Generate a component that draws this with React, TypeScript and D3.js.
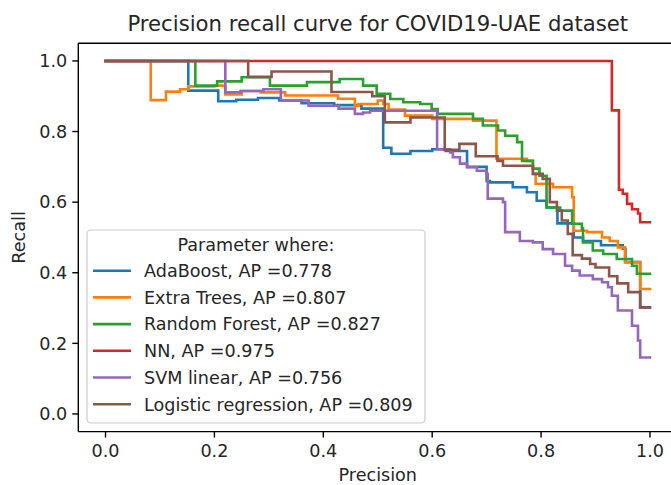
import React from "react";
import * as d3 from "d3";

const W = 671;
const H = 485;

const titleText = "Precision recall curve for COVID19-UAE dataset";
const xLabel = "Precision";
const yLabel = "Recall";
const legendTitle = "Parameter where:";
const xTicks = [0, 0.2, 0.4, 0.6, 0.8, 1.0];
const yTicks = [0, 0.2, 0.4, 0.6, 0.8, 1.0];

const seriesNames = [
  "AdaBoost, AP =0.778",
  "Extra Trees, AP =0.807",
  "Random Forest, AP =0.827",
  "NN, AP =0.975",
  "SVM linear, AP =0.756",
  "Logistic regression, AP =0.809",
];
const seriesColors = ["#1f77b4", "#ff7f0e", "#2ca02c", "#d62728", "#9467bd", "#8c564b"];

const adaBoost: [number, number][] = [
  [0, 1], [0.152, 0.916], [0.207, 0.886], [0.24, 0.89], [0.28, 0.895], [0.319, 0.888],
  [0.36, 0.88], [0.42, 0.875], [0.47, 0.865], [0.51, 0.754], [0.525, 0.737], [0.56, 0.745],
  [0.6, 0.75], [0.625, 0.745], [0.664, 0.7], [0.7, 0.66], [0.706, 0.656], [0.748, 0.642],
  [0.774, 0.628], [0.792, 0.604], [0.81, 0.585], [0.83, 0.54], [0.86, 0.5], [0.877, 0.49],
  [0.91, 0.478], [0.95, 0.468], [0.955, 0.43], [0.982, 0.302], [1.0, 0.302],
];
const extraTrees: [number, number][] = [
  [0, 1], [0.083, 0.889], [0.111, 0.913], [0.137, 0.92], [0.152, 0.928], [0.2, 0.93],
  [0.22, 0.905], [0.25, 0.915], [0.285, 0.911], [0.33, 0.902], [0.427, 0.893], [0.458, 0.873],
  [0.465, 0.878], [0.5, 0.888], [0.51, 0.878], [0.52, 0.862], [0.55, 0.845], [0.6, 0.836],
  [0.675, 0.831], [0.718, 0.723], [0.774, 0.717], [0.785, 0.68], [0.79, 0.652], [0.822, 0.642],
  [0.857, 0.614], [0.86, 0.519], [0.884, 0.515], [0.912, 0.5], [0.926, 0.49], [0.941, 0.472],
  [0.954, 0.43], [0.982, 0.354], [1.0, 0.354],
];
const randomForest: [number, number][] = [
  [0, 1], [0.165, 0.93], [0.205, 0.942], [0.25, 0.954], [0.302, 0.93], [0.37, 0.94],
  [0.43, 0.949], [0.473, 0.93], [0.498, 0.907], [0.523, 0.892], [0.547, 0.883], [0.578, 0.878],
  [0.599, 0.864], [0.61, 0.85], [0.675, 0.836], [0.693, 0.817], [0.721, 0.803], [0.734, 0.788],
  [0.756, 0.77], [0.765, 0.717], [0.785, 0.695], [0.797, 0.675], [0.81, 0.585], [0.835, 0.576],
  [0.857, 0.539], [0.875, 0.525], [0.877, 0.486], [0.895, 0.463], [0.914, 0.453], [0.939, 0.439],
  [0.967, 0.42], [0.976, 0.397], [1.0, 0.397],
];
const nn: [number, number][] = [
  [0, 1], [0.93, 0.86], [0.943, 0.635], [0.95, 0.624], [0.958, 0.595], [0.967, 0.58],
  [0.978, 0.568], [0.982, 0.543], [1.0, 0.543],
];
const svmLinear: [number, number][] = [
  [0, 1], [0.22, 0.911], [0.248, 0.915], [0.29, 0.92], [0.322, 0.888], [0.373, 0.873],
  [0.428, 0.865], [0.458, 0.85], [0.473, 0.854], [0.486, 0.859], [0.609, 0.75], [0.633, 0.741],
  [0.638, 0.727], [0.651, 0.709], [0.664, 0.699], [0.682, 0.689], [0.7, 0.68], [0.702, 0.61],
  [0.73, 0.6], [0.734, 0.515], [0.761, 0.49], [0.785, 0.486], [0.803, 0.467], [0.822, 0.453],
  [0.844, 0.42], [0.857, 0.406], [0.871, 0.392], [0.895, 0.382], [0.912, 0.373], [0.923, 0.359],
  [0.93, 0.335], [0.941, 0.293], [0.967, 0.25], [0.978, 0.208], [0.982, 0.16], [1.0, 0.16],
];
const logisticRegression: [number, number][] = [
  [0, 1], [0.262, 0.955], [0.305, 0.97], [0.415, 0.912], [0.49, 0.9], [0.513, 0.826],
  [0.56, 0.84], [0.623, 0.748], [0.65, 0.765], [0.68, 0.73], [0.72, 0.717], [0.73, 0.703],
  [0.785, 0.68], [0.803, 0.666], [0.816, 0.6], [0.829, 0.576], [0.838, 0.548], [0.849, 0.51],
  [0.858, 0.45], [0.875, 0.44], [0.89, 0.425], [0.9, 0.415], [0.925, 0.39], [0.94, 0.37],
  [0.96, 0.345], [0.982, 0.302], [1.0, 0.302],
];

const allSeries = [adaBoost, extraTrees, randomForest, nn, svmLinear, logisticRegression];

const FONT = "'DejaVu Sans', sans-serif";

export default function App() {
  const x = d3.scaleLinear().domain([-0.05, 1.05]).range([78.3, 677.2]);
  const y = d3.scaleLinear().domain([-0.05, 1.05]).range([431.6, 43.3]);
  const line = d3
    .line<[number, number]>()
    .x((d) => x(d[0]))
    .y((d) => y(d[1]))
    .curve(d3.curveStepAfter);

  const left = x(-0.05);
  const right = x(1.05);
  const top = y(1.05);
  const bottom = y(-0.05);

  const lg = { x: 87, y: 230, w: 338, h: 193 };
  const rowH = 26.7;
  const firstRow = 270.7;

  return (
    <svg
      width={W}
      height={H}
      style={{ position: "fixed", left: 0, top: 0, background: "#fff" }}
      fontFamily={FONT}
    >
      <rect x={0} y={0} width={W} height={H} fill="#fff" />
      <defs>
        <clipPath id="plotclip">
          <rect x={left} y={top} width={right - left} height={bottom - top} />
        </clipPath>
      </defs>
      <g clipPath="url(#plotclip)">
        {allSeries.map((s, i) => (
          <path
            key={i}
            d={line(s) || ""}
            fill="none"
            stroke={seriesColors[i]}
            strokeWidth={2.6}
            strokeLinejoin="miter"
            strokeLinecap="square"
          />
        ))}
      </g>
      <line x1={left} x2={left} y1={top} y2={bottom} stroke="#000" strokeWidth={1.4} />
      <line x1={left} x2={right} y1={bottom} y2={bottom} stroke="#000" strokeWidth={1.4} />
      <line x1={left} x2={right} y1={top} y2={top} stroke="#000" strokeWidth={1.4} />
      {xTicks.map((t) => (
        <g key={"x" + t}>
          <line x1={x(t)} x2={x(t)} y1={bottom} y2={bottom + 6} stroke="#000" strokeWidth={1.4} />
          <text x={x(t)} y={bottom + 25} textAnchor="middle" fontSize={17.6} fill="#262626">
            {t.toFixed(1)}
          </text>
        </g>
      ))}
      {yTicks.map((t) => (
        <g key={"y" + t}>
          <line x1={left - 6} x2={left} y1={y(t)} y2={y(t)} stroke="#000" strokeWidth={1.4} />
          <text
            x={left - 11}
            y={y(t)}
            dy="0.36em"
            textAnchor="end"
            fontSize={17.6}
            fill="#262626"
          >
            {t.toFixed(1)}
          </text>
        </g>
      ))}
      <text x={(left + right) / 2} y={481} textAnchor="middle" fontSize={17.6} fill="#262626">
        {xLabel}
      </text>
      <text
        transform={`translate(25, ${(top + bottom) / 2}) rotate(-90)`}
        textAnchor="middle"
        fontSize={17.6}
        fill="#262626"
      >
        {yLabel}
      </text>
      <text x={(left + right) / 2} y={31} textAnchor="middle" fontSize={21.2} fill="#262626">
        {titleText}
      </text>
      <rect
        x={lg.x}
        y={lg.y}
        width={lg.w}
        height={lg.h}
        rx={4}
        fill="#fff"
        fillOpacity={0.8}
        stroke="#cccccc"
        strokeWidth={1.2}
      />
      <text x={lg.x + lg.w / 2} y={245} dy="0.36em" textAnchor="middle" fontSize={17.6} fill="#262626">
        {legendTitle}
      </text>
      {seriesNames.map((n, i) => (
        <g key={n}>
          <line
            x1={93}
            x2={131}
            y1={firstRow + i * rowH}
            y2={firstRow + i * rowH}
            stroke={seriesColors[i]}
            strokeWidth={2.6}
          />
          <text x={144} y={firstRow + i * rowH} dy="0.36em" fontSize={17.6} fill="#262626">
            {n}
          </text>
        </g>
      ))}
    </svg>
  );
}
